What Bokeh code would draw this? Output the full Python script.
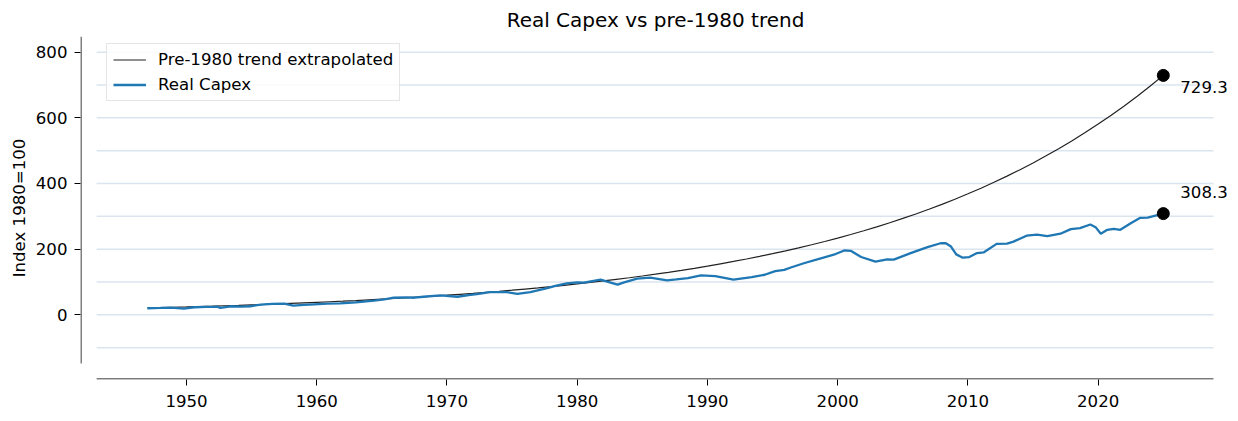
from bokeh.plotting import figure
from bokeh.models import Range1d, FixedTicker, Legend, LegendItem, Label
from bokeh.embed import file_html
from bokeh.resources import INLINE

# ---------------- data ----------------
trend_years = list(range(1947, 2026))
trend_values = [
    21.0, 22.0, 23.0, 24.0, 25.2, 26.3, 27.6, 28.8, 30.2, 31.6,
    33.1, 34.6, 36.2, 37.9, 39.7, 41.5, 43.4, 45.5, 47.6, 49.8,
    52.1, 54.5, 57.1, 59.7, 62.5, 65.4, 68.5, 71.6, 75.0, 78.5,
    82.1, 85.9, 89.9, 94.1, 98.5, 103.1, 107.9, 112.9, 118.2, 123.7,
    129.4, 135.4, 141.7, 148.3, 155.3, 162.5, 170.0, 178.0, 186.2, 194.9,
    204.0, 213.5, 223.4, 233.8, 244.7, 256.1, 268.0, 280.5, 293.6, 307.2,
    321.5, 336.5, 352.2, 368.6, 385.7, 403.7, 422.5, 442.1, 462.7, 484.3,
    506.8, 530.4, 555.1, 580.9, 608.0, 636.3, 665.9, 696.9, 729.3,
]

capex_years = [
    1947.0, 1948.0, 1948.8, 1949.8, 1950.6, 1951.5, 1952.4, 1952.6, 1953.4, 1954.2,
    1954.9, 1955.7, 1956.6, 1957.5, 1958.2, 1959.0, 1959.8, 1960.8, 1961.8, 1963.0,
    1964.4, 1965.2, 1965.9, 1966.9, 1967.5, 1968.2, 1969.5, 1970.8, 1971.8, 1972.3,
    1973.3, 1974.6, 1975.4, 1976.4, 1977.7, 1978.4, 1979.2, 1980.0, 1980.5, 1981.8,
    1982.3, 1983.1, 1983.6, 1984.6, 1985.6, 1986.9, 1987.6, 1988.5, 1989.5, 1990.6,
    1992.0, 1993.4, 1994.4, 1995.2, 1995.9, 1996.4, 1997.4, 1998.7, 1999.7, 2000.5,
    2001.0, 2001.8, 2002.9, 2003.8, 2004.3, 2005.6, 2006.9,
    2007.9, 2008.3, 2008.7, 2009.1, 2009.6, 2010.1, 2010.7, 2011.2, 2012.2, 2013.0,
    2013.5, 2014.5, 2015.3, 2016.1, 2017.1, 2017.9, 2018.6, 2019.4, 2019.8, 2020.2,
    2020.7, 2021.2, 2021.7, 2022.5, 2023.2, 2023.8, 2025.0,
]
capex_values = [
    20, 21, 22, 19, 23, 24, 24, 21, 26, 25,
    26, 31, 33, 34, 28, 30, 32, 34, 35, 38,
    43, 47, 52, 53, 52, 55, 59, 55, 61, 63,
    69, 69, 64, 69, 81, 89, 96, 99, 98, 107,
    101, 92, 99, 110, 113, 105, 108, 112, 120, 118,
    107, 115, 122, 133, 137, 144, 157, 172, 183, 196,
    195, 176, 162, 169, 168, 188, 206,
    218, 218, 208, 184, 174, 176, 188, 190, 216, 217,
    223, 241, 244, 240, 247, 261, 264, 275, 267, 247,
    259, 262, 259, 279, 295, 296, 308.3,
]

end_year = 2025.0
end_values = [729.3, 308.3]
end_labels = ["729.3", "308.3"]

x_ticks = [1950, 1960, 1970, 1980, 1990, 2000, 2010, 2020]
y_ticks = [0, 200, 400, 600, 800]
grid_levels = [-100, 0, 100, 200, 300, 400, 500, 600, 700, 800]

# ---------------- layout ----------------
PX_PER_YEAR = 13.024
PX_PER_UNIT = 0.32825
X0 = 1941.861
X1 = X0 + 1150 / PX_PER_YEAR
Y0, Y1 = -197.1, 847.8
AX_X0, AX_X1 = 1943.1, 2028.854   # matplotlib axes extent (offset spines)
AX_YB = -148.3
FONT = "DejaVu Sans"

p = figure(
    frame_width=1150, frame_height=343,
    margin=(1, 0, 0, 6),
    min_border_left=0, min_border_right=0, min_border_top=0, min_border_bottom=0,
    x_range=Range1d(X0, X1), y_range=Range1d(Y0, Y1),
    output_backend="svg", toolbar_location=None,
    title="Real Capex vs pre-1980 trend",
)
p.outline_line_color = None
p.background_fill_color = "white"
p.border_fill_color = "white"
p.xgrid.visible = False
p.ygrid.visible = False

p.title.text_font = FONT
p.title.text_font_size = "20px"
p.title.text_font_style = "normal"
p.title.text_color = "black"
p.title.align = "center"
p.title.standoff = 9

# manual gridlines across the (offset) axes area
n = len(grid_levels)
p.segment(x0=[AX_X0] * n, y0=grid_levels, x1=[AX_X1] * n, y1=grid_levels,
          line_color="#dbe5ef", line_width=1.5)

# spines
sx = X0 + 0.5 / PX_PER_YEAR
sy = Y0 + 0.5 / PX_PER_UNIT
p.segment(x0=[sx], y0=[AX_YB], x1=[sx], y1=[Y1], line_color="black", line_width=1)
p.segment(x0=[AX_X0], y0=[sy], x1=[AX_X1], y1=[sy], line_color="black", line_width=1)

r_trend = p.line(trend_years, trend_values, line_color="#222222", line_width=1.2)
r_capex = p.line(capex_years, capex_values, line_color="#1f77b4", line_width=2.3)
p.scatter([end_year] * len(end_values), end_values, size=12,
          fill_color="black", line_color="black")

# end labels
p.add_layout(Label(x=end_year, y=end_values[0], text=end_labels[0], x_offset=17, y_offset=-12,
                   text_baseline="middle", text_align="left", text_font=FONT,
                   text_font_size="16.6px", text_color="black"))
p.add_layout(Label(x=end_year, y=end_values[1], text=end_labels[1], x_offset=17, y_offset=22,
                   text_baseline="middle", text_align="left", text_font=FONT,
                   text_font_size="16.6px", text_color="black"))

# axes
for ax in (p.xaxis[0], p.yaxis[0]):
    ax.axis_line_color = None
    ax.major_tick_in = 0
    ax.major_tick_out = 6
    ax.major_tick_line_color = "black"
    ax.minor_tick_line_color = None
    ax.major_label_text_font = FONT
    ax.major_label_text_font_size = "16.6px"
    ax.major_label_text_color = "black"
p.xaxis.ticker = FixedTicker(ticks=x_ticks)
p.yaxis.ticker = FixedTicker(ticks=y_ticks)
p.xaxis.major_label_standoff = 9
p.yaxis.major_label_standoff = 7
p.yaxis.axis_label = "Index 1980=100"
p.yaxis.axis_label_text_font = FONT
p.yaxis.axis_label_text_font_size = "16.6px"
p.yaxis.axis_label_text_font_style = "normal"
p.yaxis.axis_label_text_color = "black"
p.yaxis.axis_label_standoff = 4

legend = Legend(
    items=[LegendItem(label="Pre-1980 trend extrapolated", renderers=[r_trend]),
           LegendItem(label="Real Capex", renderers=[r_capex])],
    location=(26, 278),
    label_text_font=FONT, label_text_font_size="16.6px", label_text_color="black",
    glyph_width=33, glyph_height=19, label_height=19, label_standoff=12,
    padding=6, spacing=6, margin=0,
    border_line_color="#cccccc", border_line_width=1,
    background_fill_color="white", background_fill_alpha=0.8,
)
p.add_layout(legend)

open("out.html", "w").write(file_html(p, INLINE))
